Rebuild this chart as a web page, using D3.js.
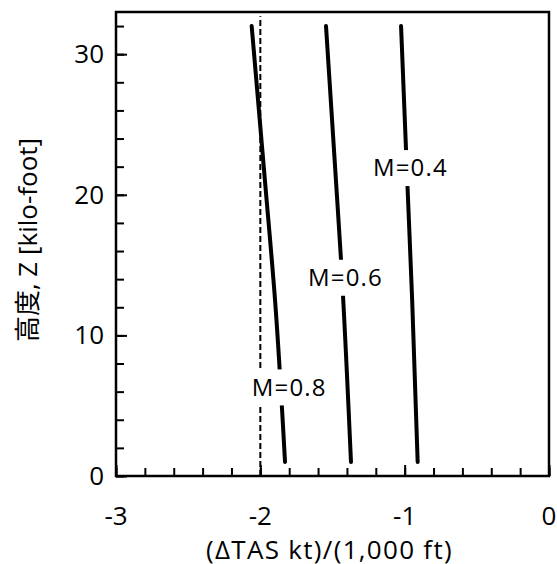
<!DOCTYPE html>
<html>
<head>
<meta charset="utf-8">
<script src="https://cdn.jsdelivr.net/npm/d3@7"></script>
<style>
  html, body { margin: 0; padding: 0; background: #fff; }
  svg { display: block; }
  text { font-family: "Open Sans", "Noto Sans CJK JP", sans-serif; fill: #000; }
</style>
</head>
<body>
<svg id="chart" width="557" height="564"></svg>
<script>
// Altitude (kilo-foot) sampled along each curve
const altM08 = [1, 12.5, 21, 32];
const altM06 = [1, 15.7, 21, 32];
const altM04 = [1, 12.5, 21, 32];
// Change of true airspeed per 1,000 ft, kt
const dtasM08 = [-1.829, -1.898, -1.968, -2.060];
const dtasM06 = [-1.372, -1.443, -1.476, -1.545];
const dtasM04 = [-0.910, -0.948, -0.982, -1.025];

const seriesNames = ["M=0.8", "M=0.6", "M=0.4"];
// Label anchor (ΔTAS, altitude) for each curve
const labelDtas = [-1.80, -1.41, -0.96];
const labelAlt = [6.3, 14.1, 21.9];

const refDtas = -2;            // dashed reference line
const xTicks = [-3, -2, -1, 0];
const yTicks = [0, 10, 20, 30];
const xTitle = "(ΔTAS kt)/(1,000 ft)";
const yTitle = "高度, Z [kilo-foot]";

const svg = d3.select("#chart");
const mLeft = 116, mRight = 549, mTop = 12, mBottom = 476;

const x = d3.scaleLinear().domain([-3, 0]).range([mLeft, mRight]);
const y = d3.scaleLinear().domain([0, 33]).range([mBottom, mTop]);

const series = [
  altM08.map((z, i) => ({ z, v: dtasM08[i] })),
  altM06.map((z, i) => ({ z, v: dtasM06[i] })),
  altM04.map((z, i) => ({ z, v: dtasM04[i] }))
];

// Dashed reference line
svg.append("line")
  .attr("x1", x(refDtas)).attr("x2", x(refDtas))
  .attr("y1", y(0)).attr("y2", y(32.7))
  .attr("stroke", "#000").attr("stroke-width", 2)
  .attr("stroke-dasharray", "6,3");

// Curves
const line = d3.line().x(d => x(d.v)).y(d => y(d.z)).curve(d3.curveMonotoneY);
svg.selectAll("path.curve").data(series).join("path")
  .attr("class", "curve")
  .attr("d", line)
  .attr("fill", "none").attr("stroke", "#000")
  .attr("stroke-width", 4).attr("stroke-linecap", "round");

// Curve labels on white boxes
const labels = svg.selectAll("g.lab").data(seriesNames).join("g")
  .attr("class", "lab")
  .attr("transform", (d, i) => `translate(${x(labelDtas[i])},${y(labelAlt[i])})`);
labels.append("rect")
  .attr("x", -43).attr("y", -18).attr("width", 86).attr("height", 36)
  .attr("fill", "#fff");
labels.append("text")
  .attr("text-anchor", "middle").attr("dy", "0.35em")
  .attr("font-size", 24).attr("letter-spacing", 1.2)
  .text(d => d);

// Axes: ticks pointing inward, minor every 0.2 / 2
const xAxis = svg.append("g").attr("transform", `translate(0,${mBottom})`);
xAxis.call(d3.axisTop(x).tickValues(d3.range(-3, 0.001, 0.2)).tickSize(8).tickFormat(""));
xAxis.append("g").call(d3.axisTop(x).tickValues(xTicks).tickSize(11).tickFormat(""));
const yAxis = svg.append("g").attr("transform", `translate(${mLeft},0)`);
yAxis.call(d3.axisRight(y).tickValues(d3.range(0, 33, 2)).tickSize(8).tickFormat(""));
yAxis.append("g").call(d3.axisRight(y).tickValues(yTicks).tickSize(11).tickFormat(""));
svg.selectAll(".domain").remove();
svg.selectAll(".tick line").attr("stroke", "#000").attr("stroke-width", 2);

// Frame
svg.append("rect")
  .attr("x", mLeft).attr("y", mTop)
  .attr("width", mRight - mLeft).attr("height", mBottom - mTop)
  .attr("fill", "none").attr("stroke", "#000").attr("stroke-width", 2.5);

// Tick labels
svg.selectAll("text.xt").data(xTicks).join("text")
  .attr("class", "xt")
  .attr("x", d => x(d)).attr("y", 516).attr("dy", "0.35em")
  .attr("text-anchor", "middle").attr("font-size", 26)
  .text(d => d);
svg.selectAll("text.yt").data(yTicks).join("text")
  .attr("class", "yt")
  .attr("x", mLeft - 12).attr("y", d => y(d)).attr("dy", "0.35em")
  .attr("text-anchor", "end").attr("font-size", 26)
  .text(d => d);

// Axis titles
svg.append("text")
  .attr("x", (mLeft + mRight) / 2 - 3).attr("y", 550).attr("dy", "0.35em")
  .attr("text-anchor", "middle").attr("font-size", 26).attr("letter-spacing", 1.3)
  .text(xTitle);
svg.append("text")
  .attr("transform", `translate(28,${(mTop + mBottom) / 2 - 4}) rotate(-90)`)
  .attr("dy", "0.35em")
  .attr("text-anchor", "middle").attr("font-size", 26)
  .text(yTitle);
</script>
</body>
</html>
